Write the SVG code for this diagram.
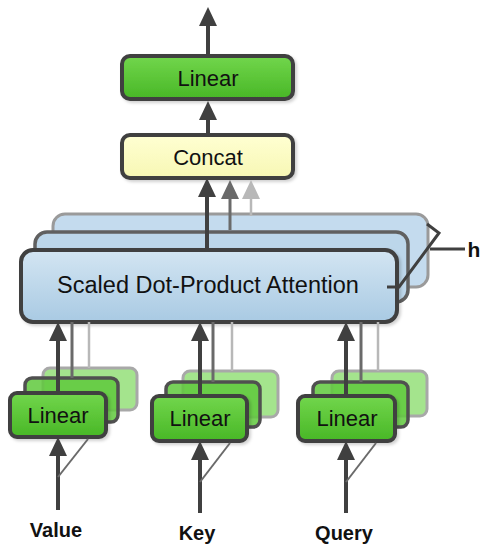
<svg xmlns="http://www.w3.org/2000/svg" width="486" height="550" viewBox="0 0 486 550">
<defs>
<linearGradient id="gGreen" x1="0" y1="0" x2="0" y2="1"><stop offset="0" stop-color="#72d64c"/><stop offset="1" stop-color="#48b726"/></linearGradient>
<linearGradient id="gBlue" x1="0" y1="0" x2="0" y2="1"><stop offset="0" stop-color="#d3e5f2"/><stop offset="1" stop-color="#a9cae3"/></linearGradient>
<linearGradient id="gYellow" x1="0" y1="0" x2="0" y2="1"><stop offset="0" stop-color="#ffffd2"/><stop offset="1" stop-color="#f7f7b4"/></linearGradient>
<filter id="sh" x="-10%" y="-10%" width="130%" height="140%"><feDropShadow dx="2" dy="2" stdDeviation="1.5" flood-color="#000" flood-opacity="0.18"/></filter>
<marker id="ah" viewBox="0 0 19 18" refX="9" refY="9" markerWidth="19" markerHeight="18" markerUnits="userSpaceOnUse" orient="auto"><path d="M0,0 L19,9 L0,18 Z" fill="#404040"/></marker>
<marker id="ah2" viewBox="0 0 19 18" refX="9" refY="9" markerWidth="19" markerHeight="18" markerUnits="userSpaceOnUse" orient="auto"><path d="M0,0 L19,9 L0,18 Z" fill="#6a6a6a"/></marker>
<marker id="ah3" viewBox="0 0 19 18" refX="9" refY="9" markerWidth="19" markerHeight="18" markerUnits="userSpaceOnUse" orient="auto"><path d="M0,0 L19,9 L0,18 Z" fill="#b8b8b8"/></marker>
</defs>
<style>
.front{stroke:#404040;stroke-width:4;filter:url(#sh)}
.green{fill:url(#gGreen)}
.back2{fill:#5fc93c;fill-opacity:0.85;stroke:#505050;stroke-width:3.5}
.back3{fill:#7ed85c;fill-opacity:0.7;stroke:#a8a8a8;stroke-width:3}
.bback2{fill:#bcd6ea;stroke:#606060;stroke-width:3.5}
.bback3{fill:#c4dbee;stroke:#9a9a9a;stroke-width:3}
.lbl{font-family:"Liberation Sans",Arial,sans-serif;font-size:22px;fill:#111;text-anchor:middle}
.in{font-family:"Liberation Sans",Arial,sans-serif;font-size:20px;font-weight:bold;fill:#111;text-anchor:middle}
.a1{stroke:#404040;stroke-width:4;fill:none}
.a2{stroke:#6a6a6a;stroke-width:3;fill:none}
.a3{stroke:#b8b8b8;stroke-width:2.5;fill:none}
.br{stroke:#6a6a6a;stroke-width:2;fill:none}
</style>

<g id="node-linear-top">
<rect x="122" y="56" width="171" height="43" rx="8" class="front green"/>
<text x="208" y="86" class="lbl">Linear</text>
</g>
<g id="node-concat">
<rect x="122" y="135" width="171" height="43" rx="8" class="front" fill="url(#gYellow)"/>
<text x="208" y="165" class="lbl">Concat</text>
</g>
<g id="node-attention">
<rect x="53" y="214" width="375" height="73" rx="12" class="bback3"/>
<rect x="35" y="232" width="373" height="70" rx="12" class="bback2"/>
<rect x="21" y="250" width="376" height="72" rx="12" class="front" fill="url(#gBlue)"/>
<text x="208" y="293" class="lbl" style="font-size:23.5px">Scaled Dot-Product Attention</text>
</g>
<g id="node-linear-v">
<rect x="43" y="368" width="94" height="42" rx="7" class="back3"/>
<rect x="25" y="378" width="93" height="44" rx="7" class="back2"/>
<rect x="10" y="393" width="96" height="44" rx="7" class="front green"/>
<text x="58" y="423" class="lbl">Linear</text>
</g>
<g id="node-linear-k">
<rect x="183" y="371" width="95" height="46" rx="7" class="back3"/>
<rect x="166" y="382" width="94" height="45" rx="7" class="back2"/>
<rect x="152" y="396" width="95" height="45" rx="7" class="front green"/>
<text x="200" y="426" class="lbl">Linear</text>
</g>
<g id="node-linear-q">
<rect x="332" y="371" width="95" height="45" rx="7" class="back3"/>
<rect x="313" y="382" width="95" height="45" rx="7" class="back2"/>
<rect x="298" y="396" width="97" height="45" rx="7" class="front green"/>
<text x="347" y="426" class="lbl">Linear</text>
</g>
<g id="label-value"><text x="56" y="537" class="in">Value</text></g>
<g id="label-key"><text x="197" y="540" class="in">Key</text></g>
<g id="label-query"><text x="344" y="540" class="in">Query</text></g>
<g id="label-h"><text x="474" y="257" class="in" style="font-size:21px">h</text></g>

<g id="connectors">
<line x1="208" y1="56" x2="208" y2="17" class="a1" marker-end="url(#ah)"/>
<line x1="208" y1="135" x2="208" y2="111" class="a1" marker-end="url(#ah)"/>
<line x1="207" y1="250" x2="207" y2="188" class="a1" marker-end="url(#ah)"/>
<line x1="230" y1="230" x2="230" y2="190" class="a2" marker-end="url(#ah2)"/>
<line x1="251" y1="216" x2="251" y2="190" class="a3" marker-end="url(#ah3)"/>

<line x1="58" y1="393" x2="58" y2="332" class="a1" marker-end="url(#ah)"/>
<line x1="72" y1="378" x2="72" y2="322" class="a2"/>
<line x1="89" y1="368" x2="89" y2="322" class="a3"/>
<line x1="200" y1="396" x2="200" y2="332" class="a1" marker-end="url(#ah)"/>
<line x1="213" y1="382" x2="213" y2="322" class="a2"/>
<line x1="232" y1="371" x2="232" y2="322" class="a3"/>
<line x1="346" y1="396" x2="346" y2="332" class="a1" marker-end="url(#ah)"/>
<line x1="361" y1="382" x2="361" y2="322" class="a2"/>
<line x1="378" y1="371" x2="378" y2="322" class="a3"/>

<line x1="58" y1="510" x2="58" y2="447" class="a1" marker-end="url(#ah)"/>
<line x1="58" y1="477" x2="88" y2="439" class="br"/>
<line x1="200" y1="513" x2="200" y2="451" class="a1" marker-end="url(#ah)"/>
<line x1="200" y1="482" x2="230" y2="443" class="br"/>
<line x1="346" y1="513" x2="346" y2="451" class="a1" marker-end="url(#ah)"/>
<line x1="346" y1="482" x2="376" y2="443" class="br"/>

<polyline points="427,224 439,233 399,287 387,287" class="a1" style="stroke-width:3"/>
<line x1="430" y1="249" x2="465" y2="249" class="a1" style="stroke-width:3"/>
</g>
</svg>
